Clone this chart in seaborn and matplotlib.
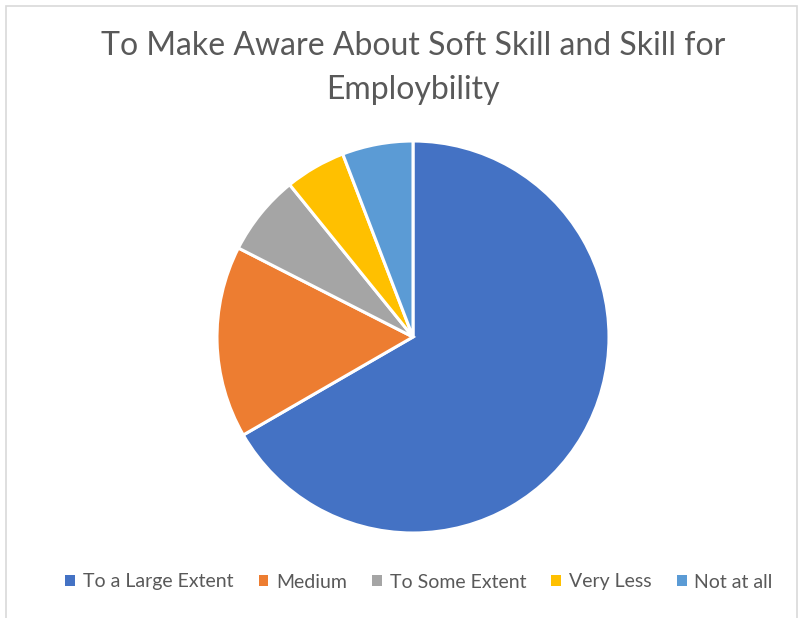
import matplotlib
matplotlib.use("Agg")
import matplotlib.pyplot as plt
import matplotlib.patches as mpatches
import seaborn as sns

# Données du graphique
categories = ["To a Large Extent", "Medium", "To Some Extent", "Very Less", "Not at all"]
counts = [80, 19, 8, 6, 7]
colors = ["#4472C4", "#ED7D31", "#A5A5A5", "#FFC000", "#5B9BD5"]
title = "To Make Aware About Soft Skill and Skill for\nEmploybility"

sns.set_theme(style="white")
plt.rcParams["font.family"] = ["Lato", "DejaVu Sans"]

fig = plt.figure(figsize=(8.05, 6.18), dpi=100)

# cadre du graphique
fig.patches.append(mpatches.Rectangle((5.5 / 805, -0.01), (797 - 5.5) / 805, 1 - 5.5 / 618 + 0.01,
                                      transform=fig.transFigure, fill=False,
                                      edgecolor="#D9D9D9", linewidth=1.2))

pie_ax = fig.add_axes([(413 - 196) / 805, 1 - (337 + 196) / 618, 392 / 805, 392 / 618])
pie_ax.pie(counts, colors=colors, startangle=90, counterclock=False, radius=1,
           wedgeprops={"edgecolor": "white", "linewidth": 2.2})
pie_ax.set_xlim(-1, 1)
pie_ax.set_ylim(-1, 1)
pie_ax.set_aspect("equal")

fig.text(413 / 805, 1 - 68 / 618, title, ha="center", va="center",
         fontsize=23, color="#595959", linespacing=1.55)

handles = [mpatches.Patch(facecolor=c, edgecolor="none", label=l) for c, l in zip(colors, categories)]
fig.legend(handles=handles, loc="center", bbox_to_anchor=(419 / 805, 1 - 582 / 618),
           ncol=5, frameon=False, fontsize=14, labelcolor="#595959",
           handlelength=0.5, handleheight=0.5, handletextpad=0.4, columnspacing=1.3)

plt.savefig("out.png", dpi=100)
plt.close()
